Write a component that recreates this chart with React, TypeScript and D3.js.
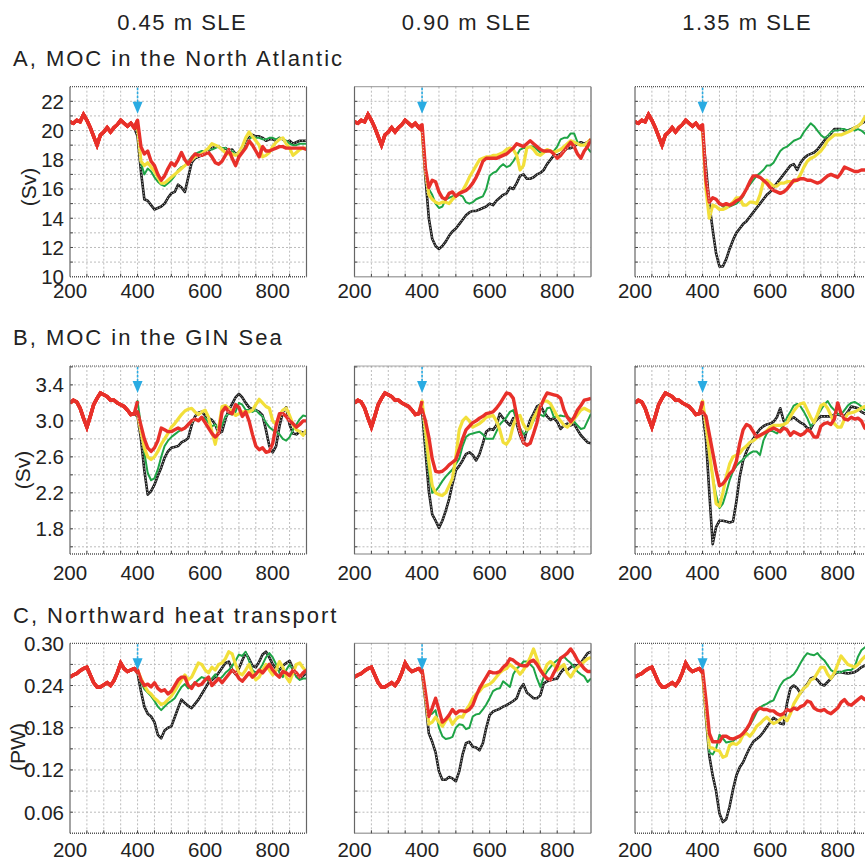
import React from "react";
import * as d3 from "d3";

// years
const ctrlYears = [200, 210, 220, 230, 240, 250, 260, 270, 280, 290, 300, 310, 320, 330, 340, 350, 360, 370, 380, 390];
const expYears = [400, 410, 420, 430, 440, 450, 460, 470, 480, 490, 500, 510, 520, 530, 540, 550, 560, 570, 580, 590,
  600, 610, 620, 630, 640, 650, 660, 670, 680, 690, 700, 710, 720, 730, 740, 750, 760, 770, 780, 790,
  800, 810, 820, 830, 840, 850, 860, 870, 880, 890, 900];

const columnTitles = ["0.45 m SLE", "0.90 m SLE", "1.35 m SLE"];
const rowTitles = ["A, MOC in the North Atlantic", "B, MOC in the GIN Sea", "C, Northward heat transport"];
const yUnits = ["(Sv)", "(Sv)", "(PW)"];
const xTicks = [200, 400, 600, 800];
const yTicksA = [10, 12, 14, 16, 18, 20, 22];
const yTicksB = [1.8, 2.2, 2.6, 3.0, 3.4];
const yTicksC = [0.06, 0.12, 0.18, 0.24, 0.3];

// control run (shared by all columns of a row)
const ctrlA = [20.6, 20.5, 20.7, 20.6, 21.1, 20.7, 20.2, 19.6, 19.0, 19.7, 19.9, 20.2, 19.9, 20.2, 20.4, 20.7, 20.5, 20.3, 20.5, 20.2];
const ctrlB = [3.20, 3.23, 3.21, 3.14, 3.03, 2.93, 3.05, 3.18, 3.25, 3.31, 3.29, 3.27, 3.23, 3.23, 3.20, 3.18, 3.16, 3.12, 3.07, 3.08];
const ctrlC = [0.252, 0.255, 0.257, 0.261, 0.264, 0.266, 0.255, 0.244, 0.238, 0.238, 0.241, 0.244, 0.240, 0.247, 0.258, 0.272, 0.264, 0.260, 0.262, 0.264];

// A, MOC North Atlantic
const a1Black = [19.6, 17.2, 15.3, 15.2, 14.9, 14.6, 14.7, 14.8, 15.0, 15.4, 15.7, 15.8, 16.3, 16.1, 15.8, 16.8, 17.8, 18.1, 18.2, 18.3, 18.5, 18.6, 18.8, 18.9, 18.9, 18.7, 18.8, 18.6, 18.7, 18.4, 18.5, 18.8, 19.1, 19.5, 19.7, 19.6, 19.6, 19.5, 19.3, 19.4, 19.4, 19.3, 19.5, 19.4, 19.2, 19.3, 19.1, 19.2, 19.3, 19.3, 19.3];
const a1Green = [20.2, 17.8, 17.0, 17.4, 17.2, 16.8, 16.5, 16.3, 16.2, 16.4, 16.6, 16.9, 17.3, 17.5, 17.6, 17.9, 18.2, 18.4, 18.5, 18.6, 18.6, 18.7, 18.7, 18.8, 18.9, 18.8, 18.8, 18.7, 18.6, 18.4, 18.2, 18.6, 19.0, 19.4, 19.6, 19.5, 19.5, 19.4, 19.4, 19.5, 19.5, 19.4, 19.5, 19.4, 19.3, 19.1, 19.0, 19.0, 19.1, 19.1, 19.1];
const a1Yellow = [20.2, 17.9, 17.6, 17.8, 17.5, 17.2, 16.8, 16.4, 16.4, 16.6, 16.8, 17.0, 17.2, 17.4, 17.6, 17.8, 18.0, 18.2, 18.3, 18.4, 18.6, 18.8, 19.1, 19.0, 18.9, 18.7, 18.5, 18.4, 18.4, 18.3, 18.5, 18.9, 19.5, 19.9, 19.6, 19.3, 19.0, 18.2, 18.3, 18.5, 18.9, 19.2, 19.4, 19.5, 19.1, 18.8, 18.3, 18.5, 18.7, 18.8, 18.8];
const a1Red = [20.7, 18.9, 18.4, 18.6, 17.9, 17.6, 17.0, 16.6, 16.9, 17.4, 17.8, 17.6, 18.0, 18.5, 18.0, 17.7, 18.1, 18.4, 18.3, 18.3, 18.4, 18.5, 18.2, 17.8, 17.7, 17.9, 18.3, 18.7, 18.1, 17.6, 18.2, 18.5, 18.8, 19.3, 19.0, 18.6, 18.2, 18.9, 18.6, 18.6, 18.7, 18.8, 18.9, 18.9, 18.8, 18.8, 18.8, 18.8, 18.8, 18.8, 18.7];

const a2Black = [20.0, 16.8, 14.0, 12.6, 12.1, 11.9, 12.1, 12.4, 12.8, 13.1, 13.3, 13.6, 13.9, 14.2, 14.4, 14.5, 14.5, 14.6, 14.7, 14.8, 15.0, 14.9, 15.2, 15.4, 15.6, 15.7, 16.1, 16.0, 16.4, 16.9, 17.0, 16.7, 16.7, 16.8, 17.0, 17.1, 17.3, 17.7, 18.0, 18.3, 18.3, 18.4, 18.6, 18.8, 18.8, 18.9, 19.1, 19.2, 19.1, 19.2, 19.4];
const a2Green = [20.0, 17.5, 16.0, 15.6, 15.0, 14.7, 14.8, 15.3, 15.4, 15.5, 15.5, 15.6, 15.5, 15.1, 15.0, 15.1, 15.3, 15.4, 15.5, 16.0, 16.9, 17.1, 17.2, 17.5, 17.7, 17.5, 17.6, 17.9, 18.3, 18.7, 18.8, 18.8, 18.9, 18.9, 18.7, 18.5, 18.5, 18.6, 18.6, 18.6, 18.9, 19.4, 19.5, 19.5, 19.8, 19.8, 19.2, 19.0, 19.1, 18.8, 18.5];
const a2Yellow = [20.0, 17.2, 15.6, 15.3, 15.1, 15.0, 15.1, 15.1, 15.0, 15.3, 15.5, 15.7, 15.9, 16.3, 16.8, 17.2, 17.6, 18.0, 18.1, 18.2, 18.2, 18.3, 18.3, 18.4, 18.5, 18.7, 18.8, 18.7, 18.3, 17.3, 17.6, 18.8, 18.9, 18.7, 18.4, 18.3, 18.5, 18.7, 18.6, 18.5, 18.6, 18.7, 18.9, 19.1, 19.3, 19.2, 19.1, 19.0, 19.0, 19.2, 19.4];
const a2Red = [20.4, 17.4, 16.1, 16.6, 16.5, 15.8, 15.4, 15.3, 15.7, 15.8, 15.5, 15.7, 15.8, 15.9, 16.1, 16.4, 16.8, 17.3, 17.9, 18.1, 18.1, 18.1, 18.1, 18.2, 18.3, 18.4, 18.6, 18.8, 19.1, 19.0, 18.9, 19.1, 19.3, 19.1, 18.9, 18.7, 18.6, 18.6, 18.6, 18.4, 18.1, 18.3, 18.6, 18.9, 19.2, 18.9, 18.4, 18.1, 18.6, 18.9, 19.4];

const a3Black = [20.0, 17.5, 15.0, 13.2, 11.6, 10.7, 10.7, 11.2, 11.9, 12.5, 13.0, 13.3, 13.6, 13.8, 14.1, 14.4, 14.7, 15.0, 15.3, 15.6, 15.8, 16.1, 16.4, 16.7, 17.0, 17.3, 17.6, 17.7, 17.3, 17.8, 18.1, 18.3, 18.4, 18.5, 18.7, 19.0, 19.3, 19.6, 19.8, 20.1, 20.1, 20.1, 20.0, 20.0, 20.1, 20.2, 20.3, 20.5, 20.6, 20.7, 20.8];
const a3Green = [20.0, 16.5, 15.2, 15.4, 15.3, 15.0, 14.8, 14.7, 14.8, 14.9, 15.0, 15.2, 15.5, 16.0, 16.3, 16.6, 16.9, 17.1, 17.3, 17.6, 17.6, 17.8, 18.2, 18.6, 18.8, 18.9, 19.1, 19.3, 19.4, 19.5, 19.9, 20.2, 20.5, 20.3, 20.0, 19.7, 19.5, 19.6, 19.9, 20.0, 20.0, 20.1, 20.1, 20.0, 20.1, 20.0, 20.1, 20.0, 19.8, 19.6, 19.5];
const a3Yellow = [20.0, 16.0, 14.0, 14.9, 14.8, 14.6, 14.6, 14.7, 14.9, 15.1, 15.4, 15.4, 14.9, 14.9, 15.1, 15.1, 15.0, 15.6, 16.5, 16.6, 16.4, 16.2, 16.2, 16.4, 16.4, 16.5, 16.5, 16.5, 16.6, 17.0, 17.5, 17.9, 18.1, 18.2, 18.4, 18.6, 18.9, 19.3, 19.5, 19.7, 19.7, 19.7, 19.8, 19.9, 20.0, 20.2, 20.3, 20.5, 20.9, 21.2, 21.3];
const a3Red = [20.4, 16.6, 15.1, 15.4, 15.3, 15.0, 14.9, 15.0, 14.9, 15.0, 15.2, 15.3, 15.6, 16.0, 16.5, 16.9, 16.9, 16.8, 16.6, 16.4, 16.1, 15.9, 15.8, 15.7, 15.8, 16.0, 16.3, 16.6, 16.6, 16.7, 16.7, 16.6, 16.6, 16.5, 16.4, 16.5, 16.7, 16.9, 17.0, 16.9, 16.8, 17.1, 17.5, 17.4, 17.3, 17.2, 17.2, 17.3, 17.3, 17.3, 17.2];

// B, MOC GIN Sea
const b1Black = [3.05, 2.80, 2.45, 2.18, 2.22, 2.29, 2.39, 2.48, 2.59, 2.66, 2.70, 2.71, 2.72, 2.76, 2.78, 2.81, 2.95, 3.05, 3.09, 3.10, 3.06, 3.03, 3.01, 2.96, 2.86, 2.88, 3.02, 3.12, 3.19, 3.26, 3.30, 3.26, 3.20, 3.15, 3.13, 3.12, 3.10, 3.06, 2.90, 2.72, 2.65, 2.72, 2.94, 3.10, 3.15, 2.96, 2.86, 2.85, 2.88, 2.87, 2.86];
const b1Green = [3.22, 2.95, 2.65, 2.42, 2.34, 2.36, 2.46, 2.60, 2.72, 2.78, 2.82, 2.85, 2.88, 2.90, 2.93, 2.96, 2.98, 3.02, 3.00, 3.04, 3.03, 2.98, 2.94, 2.96, 2.90, 2.95, 3.05, 3.08, 3.07, 3.10, 3.20, 3.18, 3.12, 3.12, 3.10, 3.12, 3.08, 3.05, 2.98, 2.93, 2.90, 2.88, 2.85, 2.80, 2.78, 2.82, 2.90, 2.96, 3.02, 3.06, 3.05];
const b1Yellow = [3.08, 2.88, 2.70, 2.60, 2.57, 2.60, 2.66, 2.74, 2.80, 2.86, 2.93, 2.97, 3.02, 3.07, 3.11, 3.13, 3.14, 3.10, 3.07, 3.10, 3.12, 3.04, 2.88, 2.74, 2.92, 3.16, 3.17, 3.14, 3.10, 3.06, 3.08, 3.10, 3.10, 3.10, 3.12, 3.18, 3.24, 3.20, 3.16, 3.14, 3.00, 2.96, 3.06, 3.12, 3.14, 3.06, 2.96, 2.90, 2.88, 2.84, 2.90];
const b1Red = [3.10, 2.95, 2.80, 2.70, 2.66, 2.70, 2.78, 2.92, 2.90, 2.88, 2.88, 2.90, 2.92, 2.90, 2.92, 2.96, 3.00, 3.02, 3.00, 3.04, 2.98, 2.92, 2.86, 2.82, 2.86, 3.10, 3.15, 3.10, 3.08, 3.18, 3.15, 3.05, 3.10, 3.00, 2.85, 2.72, 2.68, 2.70, 2.65, 2.66, 2.75, 2.95, 3.08, 3.08, 3.05, 3.00, 2.97, 2.93, 2.96, 3.00, 3.00];

const b2Black = [3.12, 2.67, 2.22, 1.96, 1.89, 1.81, 1.89, 2.00, 2.13, 2.30, 2.45, 2.50, 2.56, 2.63, 2.65, 2.62, 2.56, 2.63, 2.75, 2.88, 2.91, 2.90, 2.95, 3.08, 3.03, 2.99, 2.95, 3.03, 2.97, 2.84, 2.75, 2.90, 3.01, 3.08, 3.16, 3.18, 3.10, 3.05, 3.01, 3.03, 2.99, 2.91, 2.95, 2.97, 2.95, 2.97, 2.90, 2.84, 2.80, 2.76, 2.75];
const b2Green = [3.15, 2.80, 2.45, 2.20, 2.22, 2.27, 2.33, 2.38, 2.42, 2.46, 2.52, 2.58, 2.72, 2.82, 2.85, 2.86, 2.87, 2.88, 2.85, 2.80, 2.80, 2.80, 2.88, 2.96, 3.00, 3.04, 3.10, 3.12, 3.00, 2.92, 2.85, 2.88, 2.93, 3.00, 3.08, 3.07, 3.05, 3.14, 3.15, 3.04, 3.05, 3.06, 3.05, 3.05, 3.02, 2.99, 2.95, 2.91, 2.92, 3.00, 3.08];
const b2Yellow = [3.22, 2.90, 2.55, 2.28, 2.20, 2.18, 2.17, 2.20, 2.28, 2.36, 2.60, 2.90, 3.00, 3.04, 3.00, 2.93, 2.95, 2.97, 3.00, 3.04, 3.05, 3.06, 3.00, 2.90, 2.76, 2.74, 2.80, 2.95, 3.05, 3.06, 2.96, 2.90, 2.92, 3.03, 3.10, 3.17, 3.22, 3.22, 3.19, 3.12, 3.05, 3.00, 2.95, 2.93, 2.97, 3.02, 3.07, 3.12, 3.14, 3.12, 3.10];
const b2Red = [3.12, 3.00, 2.82, 2.58, 2.44, 2.43, 2.44, 2.47, 2.51, 2.54, 2.57, 2.68, 2.80, 2.90, 2.94, 2.98, 3.00, 3.03, 3.05, 3.08, 3.09, 3.10, 3.14, 3.19, 3.25, 3.31, 3.30, 3.25, 3.06, 2.88, 2.76, 2.73, 2.75, 2.86, 2.98, 3.15, 3.24, 3.31, 3.30, 3.29, 3.28, 3.25, 3.12, 3.04, 2.99, 3.04, 3.12, 3.17, 3.23, 3.24, 3.25];

const b3Black = [3.10, 2.80, 2.20, 1.63, 1.82, 1.89, 1.89, 1.88, 1.87, 1.88, 2.10, 2.38, 2.56, 2.66, 2.74, 2.80, 2.86, 2.91, 2.94, 2.96, 2.97, 2.99, 3.04, 3.14, 3.00, 2.99, 3.02, 3.04, 3.01, 2.98, 2.96, 2.92, 2.91, 2.98, 3.02, 3.05, 3.05, 3.05, 3.05, 3.07, 3.07, 3.06, 3.05, 3.10, 3.16, 3.15, 3.14, 3.10, 3.08, 3.06, 3.06];
const b3Green = [3.20, 2.95, 2.62, 2.38, 2.18, 2.03, 2.08, 2.20, 2.34, 2.44, 2.50, 2.54, 2.57, 2.61, 2.64, 2.66, 2.66, 2.62, 2.78, 2.86, 2.90, 2.88, 2.86, 2.90, 2.95, 3.04, 3.10, 3.17, 3.19, 3.16, 3.10, 3.03, 2.94, 2.98, 3.06, 3.12, 3.18, 3.22, 3.16, 3.12, 3.08, 3.07, 3.12, 3.17, 3.20, 3.21, 3.19, 3.16, 3.12, 3.10, 3.08];
const b3Yellow = [3.22, 2.95, 2.65, 2.38, 2.08, 2.05, 2.20, 2.38, 2.52, 2.60, 2.62, 2.64, 2.69, 2.72, 2.76, 2.78, 2.81, 2.83, 2.86, 2.89, 2.93, 2.95, 2.95, 2.95, 2.96, 2.98, 3.05, 3.11, 3.16, 3.19, 3.20, 3.12, 3.04, 2.98, 3.07, 3.17, 3.19, 3.14, 3.06, 2.97, 2.93, 2.93, 3.02, 3.08, 3.09, 3.10, 3.12, 3.14, 3.16, 3.12, 3.08];
const b3Red = [3.10, 3.05, 2.85, 2.65, 2.45, 2.28, 2.30, 2.35, 2.41, 2.45, 2.55, 2.75, 2.90, 2.96, 2.94, 2.88, 2.82, 2.84, 2.86, 2.88, 2.90, 2.92, 2.90, 2.88, 2.92, 2.90, 2.84, 2.88, 2.86, 2.84, 2.86, 2.90, 2.88, 2.82, 2.82, 2.94, 2.97, 2.98, 2.96, 3.02, 3.20, 3.08, 3.02, 3.01, 3.04, 3.02, 3.03, 3.00, 2.92, 2.90, 2.86];

// C, Northward heat transport
const c1Black = [0.258, 0.232, 0.210, 0.200, 0.196, 0.188, 0.170, 0.165, 0.176, 0.180, 0.182, 0.195, 0.208, 0.220, 0.215, 0.211, 0.208, 0.214, 0.220, 0.228, 0.236, 0.244, 0.248, 0.252, 0.258, 0.265, 0.272, 0.274, 0.262, 0.256, 0.264, 0.276, 0.286, 0.278, 0.268, 0.266, 0.274, 0.284, 0.288, 0.280, 0.270, 0.264, 0.262, 0.268, 0.272, 0.275, 0.264, 0.256, 0.250, 0.254, 0.258];
const c1Green = [0.258, 0.245, 0.235, 0.230, 0.225, 0.218, 0.210, 0.205, 0.210, 0.215, 0.218, 0.222, 0.230, 0.238, 0.242, 0.236, 0.240, 0.244, 0.248, 0.252, 0.250, 0.246, 0.250, 0.256, 0.248, 0.252, 0.258, 0.262, 0.268, 0.275, 0.284, 0.282, 0.288, 0.275, 0.262, 0.258, 0.262, 0.270, 0.280, 0.286, 0.280, 0.270, 0.258, 0.252, 0.262, 0.270, 0.262, 0.252, 0.248, 0.250, 0.250];
const c1Yellow = [0.262, 0.250, 0.240, 0.232, 0.228, 0.222, 0.218, 0.213, 0.215, 0.220, 0.225, 0.232, 0.240, 0.248, 0.255, 0.248, 0.252, 0.262, 0.272, 0.270, 0.262, 0.258, 0.266, 0.262, 0.270, 0.272, 0.278, 0.288, 0.285, 0.270, 0.258, 0.255, 0.262, 0.270, 0.258, 0.248, 0.252, 0.262, 0.270, 0.262, 0.255, 0.262, 0.274, 0.266, 0.252, 0.245, 0.258, 0.270, 0.272, 0.265, 0.260];
const c1Red = [0.262, 0.248, 0.240, 0.242, 0.238, 0.244, 0.236, 0.232, 0.234, 0.228, 0.232, 0.240, 0.248, 0.252, 0.252, 0.240, 0.236, 0.244, 0.240, 0.242, 0.248, 0.252, 0.240, 0.245, 0.250, 0.244, 0.250, 0.256, 0.262, 0.258, 0.250, 0.246, 0.252, 0.258, 0.252, 0.256, 0.262, 0.258, 0.264, 0.270, 0.262, 0.256, 0.252, 0.260, 0.258, 0.254, 0.262, 0.258, 0.252, 0.258, 0.262];

const c2Black = [0.258, 0.218, 0.172, 0.160, 0.145, 0.118, 0.106, 0.106, 0.110, 0.108, 0.104, 0.118, 0.142, 0.158, 0.160, 0.153, 0.152, 0.148, 0.158, 0.180, 0.198, 0.203, 0.205, 0.207, 0.210, 0.212, 0.215, 0.218, 0.222, 0.235, 0.242, 0.230, 0.226, 0.222, 0.222, 0.226, 0.243, 0.246, 0.248, 0.249, 0.250, 0.258, 0.264, 0.262, 0.266, 0.269, 0.268, 0.272, 0.279, 0.286, 0.288];
const c2Green = [0.258, 0.225, 0.198, 0.200, 0.205, 0.180, 0.168, 0.164, 0.165, 0.167, 0.180, 0.185, 0.184, 0.178, 0.180, 0.196, 0.199, 0.200, 0.206, 0.213, 0.222, 0.232, 0.235, 0.236, 0.246, 0.242, 0.238, 0.256, 0.264, 0.268, 0.274, 0.274, 0.270, 0.265, 0.250, 0.238, 0.252, 0.260, 0.266, 0.272, 0.276, 0.278, 0.281, 0.276, 0.272, 0.266, 0.260, 0.256, 0.253, 0.245, 0.250];
const c2Yellow = [0.262, 0.225, 0.185, 0.188, 0.195, 0.188, 0.182, 0.190, 0.195, 0.185, 0.192, 0.196, 0.195, 0.205, 0.212, 0.222, 0.228, 0.232, 0.238, 0.240, 0.242, 0.246, 0.252, 0.258, 0.262, 0.264, 0.270, 0.266, 0.262, 0.256, 0.262, 0.270, 0.280, 0.292, 0.278, 0.262, 0.258, 0.270, 0.274, 0.270, 0.262, 0.266, 0.270, 0.258, 0.252, 0.260, 0.266, 0.270, 0.274, 0.278, 0.280];
const c2Red = [0.262, 0.230, 0.196, 0.208, 0.222, 0.205, 0.188, 0.192, 0.198, 0.206, 0.200, 0.204, 0.204, 0.203, 0.206, 0.212, 0.225, 0.236, 0.244, 0.252, 0.260, 0.258, 0.258, 0.260, 0.266, 0.270, 0.278, 0.276, 0.272, 0.269, 0.268, 0.268, 0.274, 0.276, 0.270, 0.262, 0.255, 0.250, 0.248, 0.258, 0.267, 0.279, 0.282, 0.286, 0.292, 0.285, 0.276, 0.270, 0.264, 0.260, 0.260];

const c3Black = [0.258, 0.195, 0.140, 0.112, 0.090, 0.058, 0.046, 0.050, 0.068, 0.092, 0.112, 0.124, 0.131, 0.142, 0.152, 0.160, 0.164, 0.168, 0.174, 0.181, 0.188, 0.194, 0.191, 0.186, 0.185, 0.215, 0.236, 0.240, 0.236, 0.229, 0.236, 0.242, 0.250, 0.252, 0.248, 0.242, 0.240, 0.245, 0.250, 0.256, 0.259, 0.259, 0.258, 0.257, 0.258, 0.259, 0.262, 0.266, 0.268, 0.270, 0.272];
const c3Green = [0.258, 0.200, 0.145, 0.142, 0.150, 0.170, 0.165, 0.159, 0.160, 0.161, 0.165, 0.168, 0.172, 0.176, 0.184, 0.192, 0.202, 0.209, 0.212, 0.214, 0.217, 0.219, 0.230, 0.240, 0.247, 0.250, 0.252, 0.256, 0.263, 0.272, 0.280, 0.286, 0.284, 0.283, 0.286, 0.280, 0.276, 0.269, 0.262, 0.259, 0.259, 0.259, 0.261, 0.262, 0.262, 0.266, 0.281, 0.290, 0.294, 0.296, 0.298];
const c3Yellow = [0.258, 0.205, 0.152, 0.151, 0.148, 0.147, 0.138, 0.140, 0.155, 0.158, 0.156, 0.160, 0.170, 0.172, 0.168, 0.174, 0.182, 0.186, 0.191, 0.195, 0.190, 0.186, 0.188, 0.192, 0.196, 0.190, 0.200, 0.214, 0.222, 0.230, 0.236, 0.240, 0.248, 0.250, 0.258, 0.266, 0.266, 0.256, 0.250, 0.258, 0.270, 0.282, 0.276, 0.270, 0.268, 0.266, 0.270, 0.276, 0.281, 0.284, 0.286];
const c3Red = [0.262, 0.220, 0.172, 0.160, 0.160, 0.160, 0.168, 0.168, 0.165, 0.164, 0.166, 0.168, 0.172, 0.178, 0.186, 0.198, 0.205, 0.208, 0.206, 0.206, 0.204, 0.204, 0.200, 0.198, 0.200, 0.206, 0.204, 0.208, 0.206, 0.210, 0.212, 0.218, 0.216, 0.208, 0.205, 0.204, 0.206, 0.202, 0.200, 0.204, 0.208, 0.216, 0.220, 0.214, 0.212, 0.216, 0.220, 0.224, 0.220, 0.222, 0.222];

const seriesColors = ["#1c1c1c", "#1ea446", "#f2df3a", "#e8302a"];
const seriesWidths = [2.6, 2, 3.2, 3.4];

const rows = [
  { ctrl: ctrlA, domain: [10, 23], step: 1, ticks: yTicksA, fmt: d3.format("d"),
    panels: [[a1Black, a1Green, a1Yellow, a1Red], [a2Black, a2Green, a2Yellow, a2Red], [a3Black, a3Green, a3Yellow, a3Red]] },
  { ctrl: ctrlB, domain: [1.52, 3.61], step: 0.2, ticks: yTicksB, fmt: d3.format(".1f"),
    panels: [[b1Black, b1Green, b1Yellow, b1Red], [b2Black, b2Green, b2Yellow, b2Red], [b3Black, b3Green, b3Yellow, b3Red]] },
  { ctrl: ctrlC, domain: [0.03, 0.3], step: 0.03, ticks: yTicksC, fmt: d3.format(".2f"),
    panels: [[c1Black, c1Green, c1Yellow, c1Red], [c2Black, c2Green, c2Yellow, c2Red], [c3Black, c3Green, c3Yellow, c3Red]] },
];

// layout
const colX = [70, 354.5, 635];
const panelW = 236.5;
const rowTop = [86.7, 366, 643.3];
const rowH = [190, 188, 190];
const xLabelDy = [21.5, 26, 23.5];
const rowTitleY = [66, 345, 623];
const unitPos = [[28, 187], [22, 470], [17, 747]];
const font = "'Liberation Sans', Arial, Helvetica, sans-serif";

function Panel({ r, c }) {
  const row = rows[r];
  const x0 = colX[c];
  const y0 = rowTop[r];
  const h = rowH[r];
  const x = d3.scaleLinear().domain([200, 900]).range([x0, x0 + panelW]);
  const y = d3.scaleLinear().domain(row.domain).range([y0 + h, y0]);
  const line = d3.line<[number, number]>().x((d) => x(d[0])).y((d) => y(d[1]));
  const vGrid = d3.range(250, 900, 50);
  const hGrid = d3.range(Math.ceil(row.domain[0] / row.step + 1e-6), Math.floor(row.domain[1] / row.step + 1e-6) + 1)
    .map((k) => +(k * row.step).toFixed(4))
    .filter((v) => v > row.domain[0] + 1e-6 && v < row.domain[1] - 1e-6);
  const clipId = `clip-${r}-${c}`;
  const series = row.panels[c].map((exp) => [
    ...ctrlYears.map((yr, i) => [yr, row.ctrl[i]] as [number, number]),
    ...expYears.map((yr, i) => [yr, exp[i]] as [number, number]),
  ]);
  const ax = x(400);
  return (
    <g>
      <defs>
        <clipPath id={clipId}>
          <rect x={x0} y={y0} width={panelW} height={h} />
        </clipPath>
      </defs>
      <rect x={x0} y={y0} width={panelW} height={h} fill="#fff" />
      {vGrid.map((v) => (
        <line key={"v" + v} x1={x(v)} x2={x(v)} y1={y0} y2={y0 + h} stroke="#bcbcbc" strokeDasharray="2,2" />
      ))}
      {hGrid.map((v) => (
        <line key={"h" + v} x1={x0} x2={x0 + panelW} y1={y(v)} y2={y(v)} stroke="#bcbcbc" strokeDasharray="2,2" />
      ))}
      {hGrid.map((v) => (
        <line key={"lt" + v} x1={x0} x2={x0 + 3} y1={y(v)} y2={y(v)} stroke="#444" />
      ))}
      {vGrid.map((v) => (
        <line key={"bt" + v} x1={x(v)} x2={x(v)} y1={y0 + h} y2={y0 + h - 3} stroke="#444" />
      ))}
      <g clipPath={`url(#${clipId})`}>
        {series.map((pts, k) => (
          <path key={k} d={line(pts) || ""} fill="none" stroke={seriesColors[k]} strokeWidth={seriesWidths[k]} strokeLinejoin="round" />
        ))}
        <path d={line(series[0]) || ""} fill="none" stroke="#d8d8d8" strokeWidth={0.9} strokeDasharray="1.2,1.8" />
        {series.slice(1).map((pts, k) => (
          <path key={"o" + k} d={line(pts.slice(0, ctrlYears.length + 1)) || ""} fill="none" stroke={seriesColors[3]} strokeWidth={seriesWidths[3]} />
        ))}
      </g>
      <line x1={x0} x2={x0 + panelW} y1={y0} y2={y0} stroke="#555" strokeDasharray="1,1" strokeWidth={1.2} />
      <line x1={x0} x2={x0 + panelW} y1={y0 + h} y2={y0 + h} stroke="#555" strokeDasharray="1,1" strokeWidth={1.6} />
      <line x1={x0} x2={x0} y1={y0} y2={y0 + h} stroke="#666" strokeWidth={1.2} />
      <line x1={x0 + panelW} x2={x0 + panelW} y1={y0} y2={y0 + h} stroke="#666" strokeWidth={1.2} />
      <line x1={ax} x2={ax} y1={y0 + 1} y2={y0 + 17} stroke="#29abe2" strokeWidth={1.6} strokeDasharray="2.5,1.5" />
      <path d={`M${ax - 5},${y0 + 15} L${ax + 5},${y0 + 15} L${ax},${y0 + 27} Z`} fill="#29abe2" />
      {xTicks.map((t) => (
        <text key={"xt" + t} x={x(t)} y={y0 + h + xLabelDy[r]} textAnchor="middle" fontSize={20.5} fill="#222" fontFamily={font}>
          {t}
        </text>
      ))}
      {c === 0 &&
        row.ticks.map((t) => (
          <text key={"yt" + t} x={x0 - 6} y={y(t)} dy="0.36em" textAnchor="end" fontSize={20.5} fill="#222" fontFamily={font}>
            {row.fmt(t)}
          </text>
        ))}
    </g>
  );
}

export default function App() {
  return (
    <svg width={865} height={860} style={{ position: "absolute", left: 0, top: 0, background: "#fff" }}>
      <rect x={0} y={0} width={865} height={860} fill="#fff" />
      {columnTitles.map((t, c) => (
        <text key={t} x={colX[c] + panelW / 2 - 6} y={30} textAnchor="middle" fontSize={22} letterSpacing={1.5} fill="#222" fontFamily={font}>
          {t}
        </text>
      ))}
      {rowTitles.map((t, r) => (
        <text key={t} x={13} y={rowTitleY[r]} fontSize={22} letterSpacing={2} fill="#222" fontFamily={font}>
          {t}
        </text>
      ))}
      {yUnits.map((u, r) => (
        <text key={r} transform={`translate(${unitPos[r][0]},${unitPos[r][1]}) rotate(-90)`} textAnchor="middle" dy="0.36em" fontSize={21} fill="#222" fontFamily={font}>
          {u}
        </text>
      ))}
      {[0, 1, 2].map((r) => [0, 1, 2].map((c) => <Panel key={`${r}-${c}`} r={r} c={c} />))}
    </svg>
  );
}
